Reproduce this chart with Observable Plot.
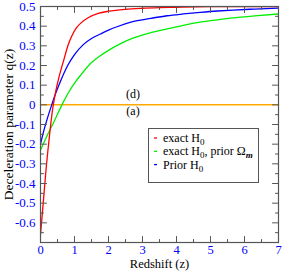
<!DOCTYPE html>
<html><head><meta charset="utf-8">
<script src="https://cdn.jsdelivr.net/npm/d3@7"></script>
<script src="https://cdn.jsdelivr.net/npm/@observablehq/plot@0.6"></script>
<style>
body{margin:0;background:#fff;}
#chart svg{display:block;}
#chart svg text{font-family:"Liberation Serif",serif !important;}
</style></head>
<body><div id="chart"></div>
<script>
const redZ = [0,0.08,0.16,0.25,0.35,0.45,0.55,0.68,0.8,0.92,1.05,1.2,1.4,1.7,2.0,2.5,3,3.5,4,5,6,7];
const redQ = [-0.66,-0.5,-0.335,-0.18,-0.03,0.07,0.145,0.225,0.298,0.35,0.39,0.418,0.443,0.465,0.476,0.486,0.491,0.494,0.496,0.499,0.5,0.5];
const blueZ = [0,0.1,0.2,0.33,0.45,0.6,0.8,1.0,1.25,1.5,1.76,2.0,2.25,2.74,3.25,3.72,4.2,4.7,5.2,5.67,6.3,7];
const blueQ = [-0.2,-0.13,-0.07,0,0.06,0.125,0.2,0.255,0.305,0.337,0.36,0.38,0.397,0.424,0.44,0.453,0.462,0.47,0.477,0.482,0.487,0.492];
const greenZ = [0,0.2,0.4,0.63,0.8,1.0,1.2,1.5,1.76,2.0,2.4,2.74,3.2,3.72,4.2,4.7,5.2,5.67,6.3,7];
const greenQ = [-0.23,-0.155,-0.085,0,0.055,0.11,0.155,0.215,0.25,0.277,0.315,0.34,0.365,0.386,0.404,0.42,0.432,0.442,0.452,0.462];
const orangeZ = [0,7];
const orangeQ = [0,0];
const seriesColors = ["#ff0000","#00ee00","#0000ff"];
const xTicks = [0,1,2,3,4,5,6,7];
const xMinor = [0.5,1.5,2.5,3.5,4.5,5.5,6.5];
const yTicks = [-0.6,-0.5,-0.4,-0.3,-0.2,-0.1,0,0.1,0.2,0.3,0.4,0.5];
const yMinor = [-0.65,-0.55,-0.45,-0.35,-0.25,-0.15,-0.05,0.05,0.15,0.25,0.35,0.45];
const annotations = [{z:2.72,q:0.055,t:"(d)"},{z:2.72,q:-0.03,t:"(a)"}];

const FF = "Liberation Serif, serif";
const pts = (zs,qs)=>zs.map((z,i)=>({z,q:qs[i]}));
const axisCol = "#555";
const fmt = d => d===0 ? "0" : String(d);
const tickShape = {draw(ctx,l){ctx.moveTo(0,0);ctx.lineTo(0,-l);}};
const tk = (data, ch, anchor, len, rot) => Plot.vector(data, {
  [ch]: d=>d, frameAnchor: anchor, length: len, rotate: rot, anchor: "start",
  shape: tickShape, stroke: axisCol, strokeWidth: 1
});

const plot = Plot.plot({
  width:282, height:271,
  marginLeft:40, marginRight:4, marginTop:6, marginBottom:29,
  style:{fontFamily:FF, fontSize:"12px", background:"#fff"},
  x:{domain:[0,7]},
  y:{domain:[-0.7,0.5]},
  marks:[
    Plot.line(pts(orangeZ,orangeQ),{x:"z",y:"q",stroke:"#ffaa00",strokeWidth:1.5}),
    Plot.line(pts(greenZ,greenQ),{x:"z",y:"q",stroke:seriesColors[1],strokeWidth:1.3,curve:"monotone-x",clip:true}),
    Plot.line(pts(blueZ,blueQ),{x:"z",y:"q",stroke:seriesColors[2],strokeWidth:1.3,curve:"monotone-x",clip:true}),
    Plot.line(pts(redZ,redQ),{x:"z",y:"q",stroke:seriesColors[0],strokeWidth:1.3,curve:"monotone-x",clip:true}),
    Plot.text(annotations,{x:"z",y:"q",text:"t",fontSize:12,fill:"#000",fontFamily:FF}),
    Plot.frame({stroke:axisCol,strokeWidth:1.2}),
    tk(xTicks,"x","bottom",6,0),
    tk(xMinor,"x","bottom",3,0),
    tk(xTicks,"x","top",6,180),
    tk(xMinor,"x","top",3,180),
    tk(yTicks,"y","left",6,90),
    tk(yMinor,"y","left",3,90),
    tk(yTicks,"y","right",6,-90),
    tk(yMinor,"y","right",3,-90),
    Plot.axisX(xTicks,{anchor:"bottom",tickSize:0,tickPadding:3,fill:"#0000ff",fontSize:12.5,fontFamily:FF,label:null,tickFormat:fmt}),
    Plot.axisY(yTicks,{anchor:"left",tickSize:0,tickPadding:5,fill:"#0000ff",fontSize:13,fontFamily:FF,label:null,tickFormat:fmt}),
    Plot.text(["Redshift (z)"],{frameAnchor:"bottom",textAnchor:"middle",dy:25,fontSize:12.5,fill:"#000",fontFamily:FF}),
    Plot.text(["Deceleration parameter q(z)"],{frameAnchor:"left",textAnchor:"middle",rotate:-90,dx:-32,fontSize:13.5,fill:"#000",fontFamily:FF})
  ]
});
document.getElementById("chart").appendChild(plot);

// legend
const svg = d3.select(plot);
const lg = svg.append("g").attr("transform","translate(148,128)");
lg.append("rect").attr("x",0.5).attr("y",0.5).attr("width",110).attr("height",54)
  .attr("fill","#fff").attr("stroke",axisCol).attr("stroke-width",1);
const rows = [
  [["exact H",0],["0",1]],
  [["exact H",0],["0",1],[", prior Ω",-1],["m",2]],
  [["Prior H",0],["0",1]]
];
rows.forEach((r,i)=>{
  const yy = 14 + i*13.3;
  lg.append("line").attr("x1",6).attr("x2",9).attr("y1",yy-4).attr("y2",yy-4)
    .attr("stroke",seriesColors[i]).attr("stroke-width",1.3);
  const t = lg.append("text").attr("x",15).attr("y",yy).attr("font-size",12)
    .attr("fill","#000").attr("text-anchor","start").attr("font-family",FF);
  r.forEach(([s,k])=>{
    const ts = t.append("tspan").text(s);
    if(k===1){ts.attr("font-size",9).attr("dy",3);}
    else if(k===2){ts.attr("font-size",9).attr("dy",3).attr("font-style","italic").attr("font-weight","bold");}
    else if(k===-1){ts.attr("dy",-3);}
  });
});
</script></body></html>
